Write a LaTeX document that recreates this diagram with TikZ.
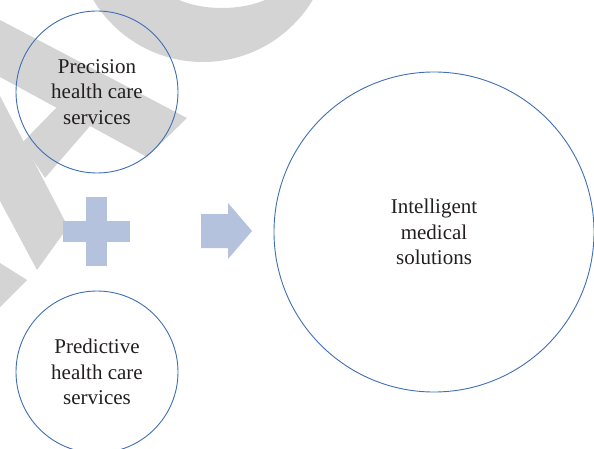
\documentclass[tikz,border=0pt]{standalone}
\usepackage{fontspec}
\setmainfont{Liberation Serif}
\definecolor{ringblue}{HTML}{3F6EB5}
\definecolor{shapefill}{HTML}{B4C2DD}
\definecolor{wmgray}{HTML}{D4D4D4}
\definecolor{txt}{HTML}{231F20}
\tikzset{
  bubble/.style={circle, draw=ringblue, line width=0.9pt, inner sep=0pt,
    align=center, text=txt, font=\fontsize{21}{25.5}\selectfont},
  wm/.style={fill=wmgray, draw=none},
  sym/.style={fill=shapefill, draw=none}
}
\begin{document}
\begin{tikzpicture}[x=1pt, y=-1pt]
\useasboundingbox (0,0) rectangle (594,449);
\begin{scope}
\clip (0,0) rectangle (594,449);
% watermark
\path[wm, even odd rule] (203,-66) circle[radius=128] (222,-30) ellipse[x radius=70, y radius=38];
\path[wm] (0,20) -- (187,118) -- (147,157) -- (0,77) -- cycle;
\path[wm] (57,107) -- (90,126) -- (45,178) -- (22,143) -- cycle;
\path[wm] (0,96) -- (68,227) -- (37,270) -- (0,201) -- cycle;
\path[wm] (0,263) -- (27,280) -- (0,307) -- cycle;
% plus
\path[sym] (86,197) rectangle (107,266);
\path[sym] (63,221) rectangle (130,242);
% arrow
\path[sym] (201,214) -- (228,214) -- (228,203) -- (252,231) -- (228,259) -- (228,248) -- (201,248) -- cycle;
% circles
\node[bubble, minimum size=162pt] (prec) at (97,92) {Precision\\health care\\services};
\node[bubble, minimum size=162pt] (pred) at (97,372) {Predictive\\health care\\services};
\node[bubble, minimum size=320pt] (intel) at (434,232) {Intelligent\\medical\\solutions};
\end{scope}
\end{tikzpicture}
\end{document}
